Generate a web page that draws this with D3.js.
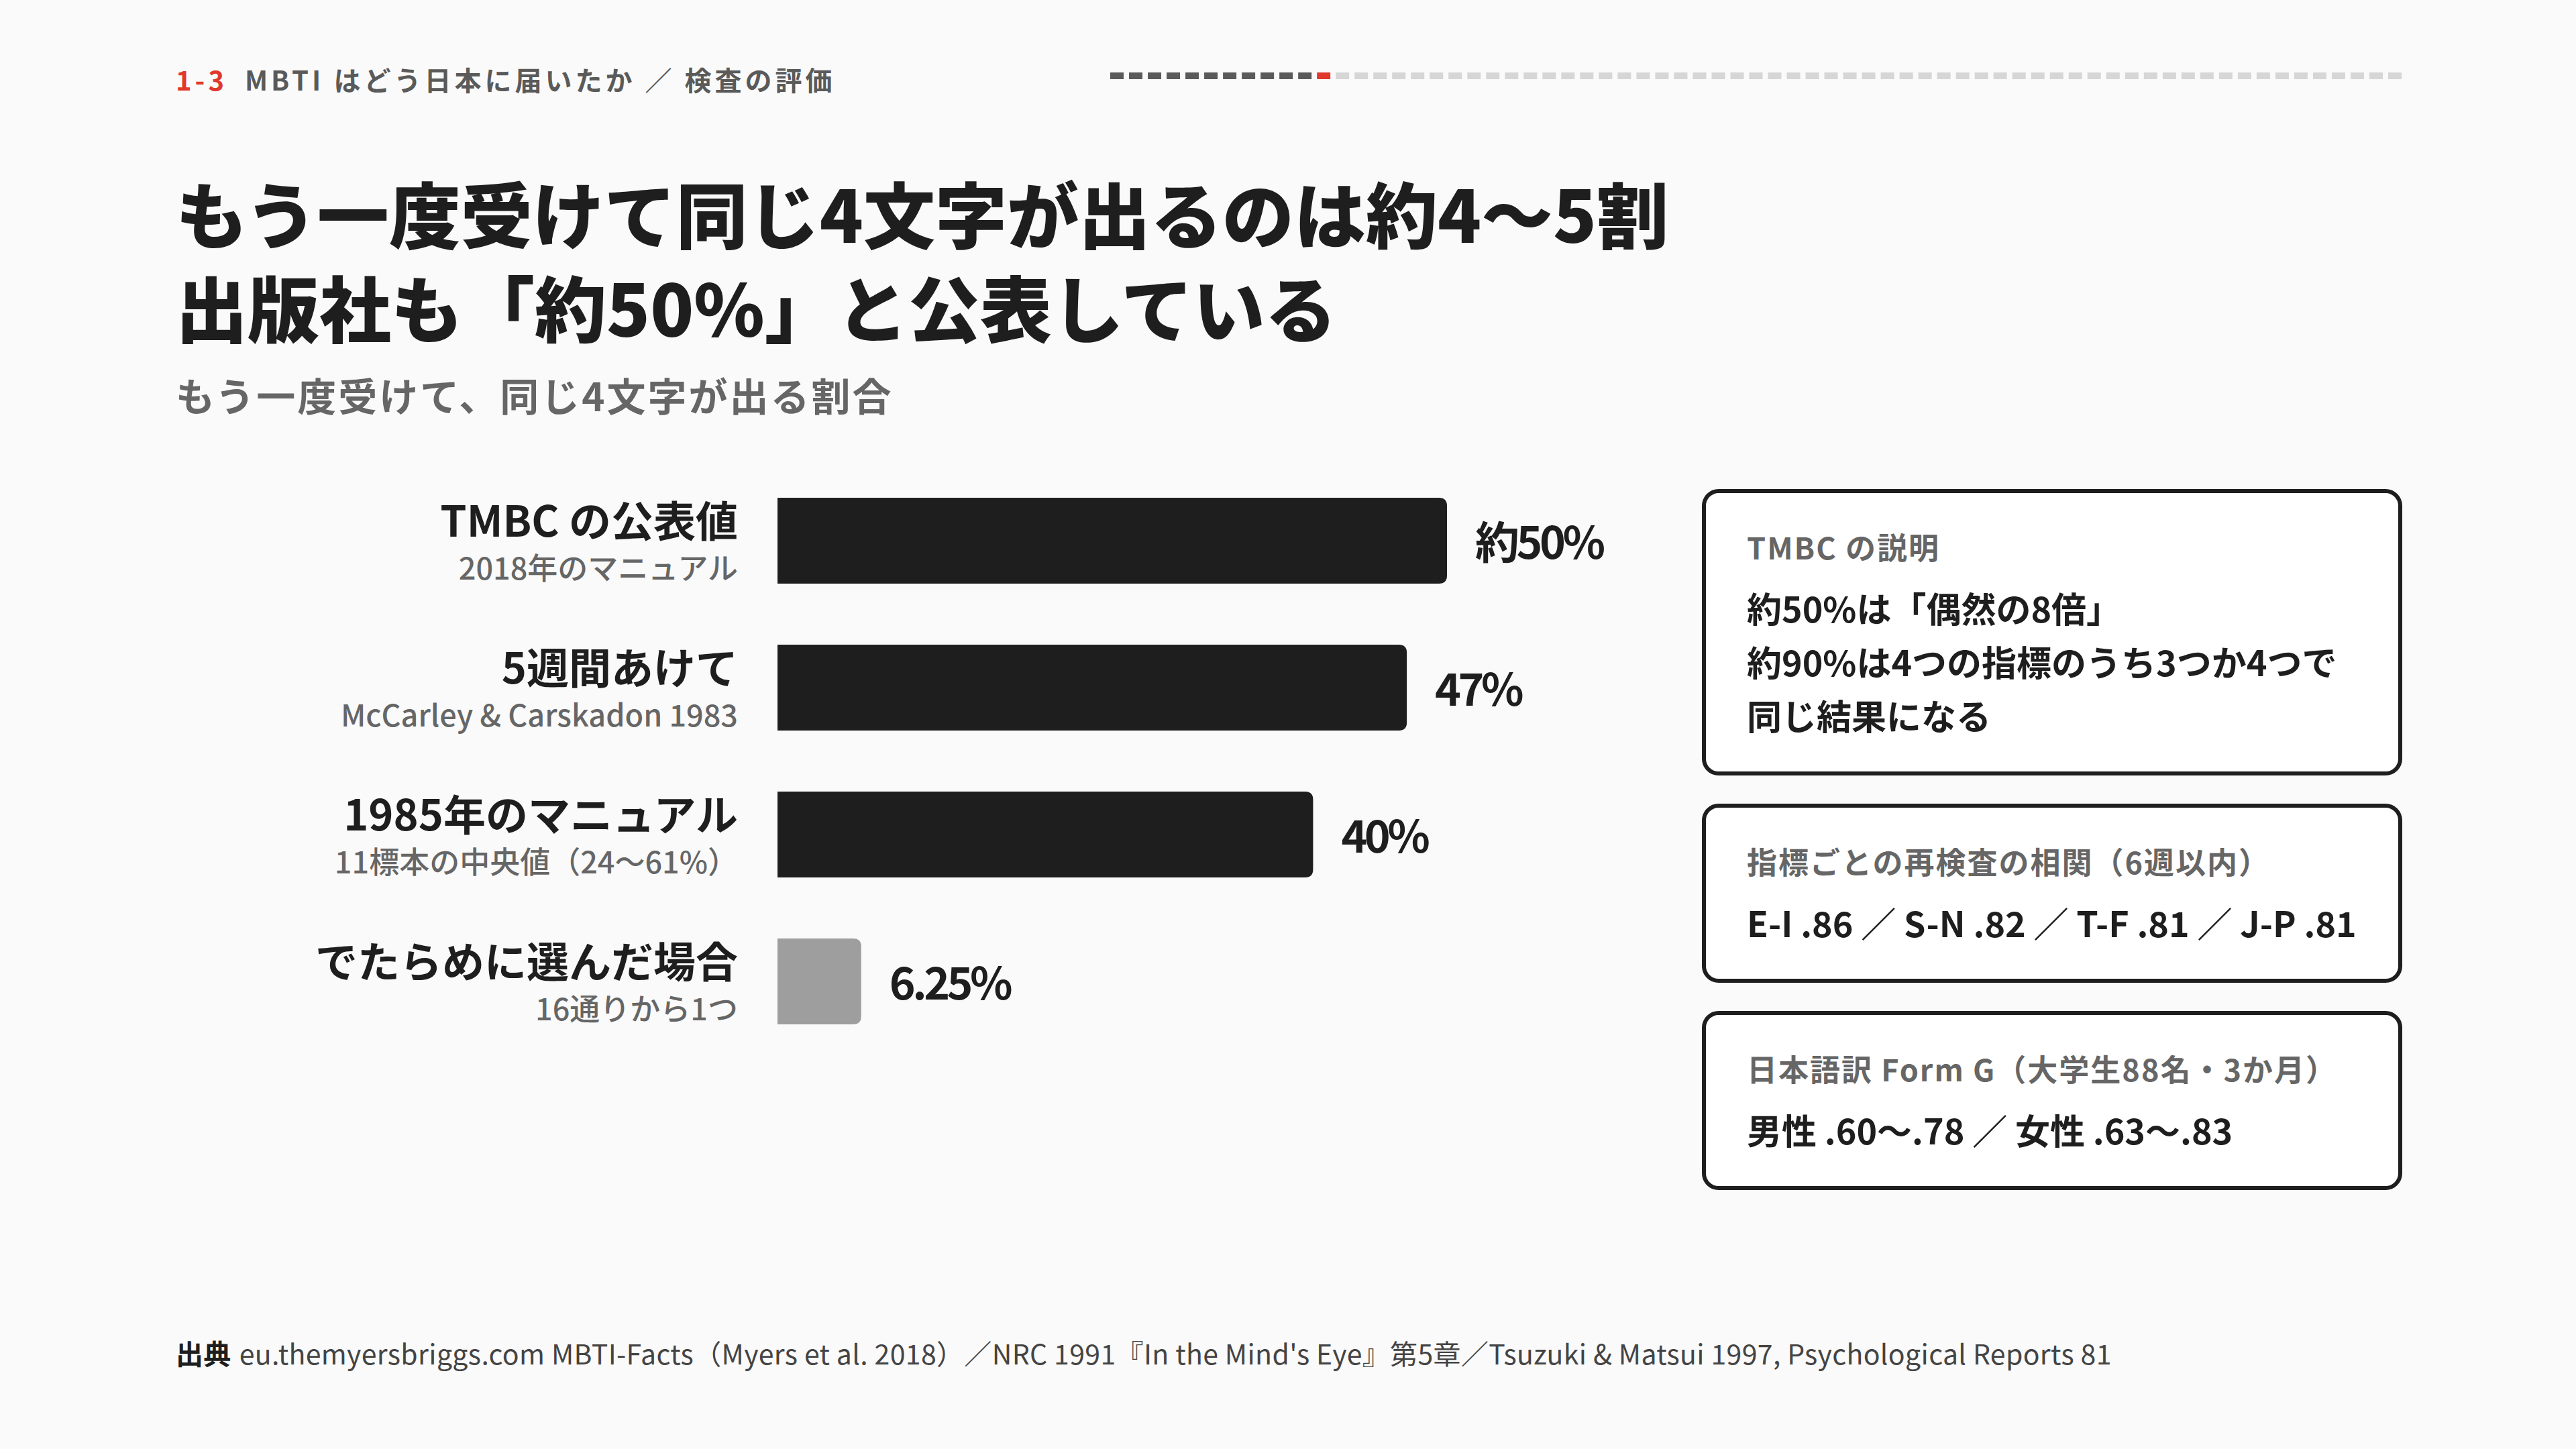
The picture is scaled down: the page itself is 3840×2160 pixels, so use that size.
<!DOCTYPE html>
<html>
<head>
<meta charset="utf-8">
<script src="https://cdn.jsdelivr.net/npm/d3@7"></script>
<style>
  body { margin: 0; background: #fafafa; }
  svg { display: block; font-family: "Noto Sans CJK JP", "Noto Sans", sans-serif; }
</style>
</head>
<body>
<script>
// chart data
var categories = ["TMBC の公表値", "5週間あけて", "1985年のマニュアル", "でたらめに選んだ場合"];
var notes = ["2018年のマニュアル", "McCarley & Carskadon 1983", "11標本の中央値（24〜61%）", "16通りから1つ"];
var values = [50, 47, 40, 6.25];
var valueLabels = ["約50%", "47%", "40%", "6.25%"];
var isChance = [false, false, false, true];

// side boxes
var boxTitles = ["TMBC の説明", "指標ごとの再検査の相関（6週以内）", "日本語訳 Form G（大学生88名・3か月）"];
var boxLines = [
  ["約50%は「偶然の8倍」", "約90%は4つの指標のうち3つか4つで", "同じ結果になる"],
  ["E-I .86 ／ S-N .82 ／ T-F .81 ／ J-P .81"],
  ["男性 .60〜.78 ／ 女性 .63〜.83"]
];

// progress dashes in header
var dashCount = 69;
var dashCurrent = 11;

var w = 3840;
var h = 2160;

var svg = d3.select("body")
  .append("svg")
  .attr("width", w)
  .attr("height", h);

svg.append("rect").attr("width", w).attr("height", h).attr("fill", "#fafafa");

// header
var header = svg.append("text")
  .attr("x", 262)
  .attr("y", 135)
  .attr("font-size", 40)
  .attr("font-weight", 700)
  .attr("letter-spacing", 5);
header.append("tspan").attr("fill", "#e0392b").text("1-3");
header.append("tspan").attr("fill", "#5a5a5a").attr("dx", 26).text("MBTI はどう日本に届いたか ／ 検査の評価");

var dashX = d3.scaleLinear().domain([0, dashCount - 1]).range([1655, 3560]);
svg.selectAll("rect.dash")
  .data(d3.range(dashCount))
  .enter()
  .append("rect")
  .attr("class", "dash")
  .attr("x", function(d) { return dashX(d); })
  .attr("y", 108)
  .attr("width", 20)
  .attr("height", 10)
  .attr("fill", function(d) {
    if (d < dashCurrent) return "#5a5a5a";
    if (d == dashCurrent) return "#e0392b";
    return "#d6d6d6";
  });

// title (two lines in one text)
var titleLines = ["もう一度受けて同じ4文字が出るのは約4〜5割", "出版社も「約50%」と公表している"];
svg.append("text")
  .attr("font-size", 107)
  .attr("font-weight", 900)
  .attr("fill", "#1e1e1e")
  .selectAll("tspan")
  .data(titleLines)
  .enter()
  .append("tspan")
  .attr("x", 262)
  .attr("y", function(d, i) { return 362 + i * 140; })
  .text(function(d) { return d; });

svg.append("text")
  .attr("x", 262)
  .attr("y", 613)
  .attr("font-size", 58)
  .attr("font-weight", 700)
  .attr("letter-spacing", 3)
  .attr("fill", "#666")
  .text("もう一度受けて、同じ4文字が出る割合");

// bars
var x = d3.scaleLinear().domain([0, 50]).range([1159, 2157]);
var y = d3.scaleBand().domain(categories).range([742, 1527]).paddingInner(91 / 219).paddingOuter(0);

function barPath(x0, x1, y0, bh, r) {
  r = Math.min(r, (x1 - x0) / 2);
  return "M" + x0 + "," + y0 +
    "H" + (x1 - r) +
    "Q" + x1 + "," + y0 + " " + x1 + "," + (y0 + r) +
    "V" + (y0 + bh - r) +
    "Q" + x1 + "," + (y0 + bh) + " " + (x1 - r) + "," + (y0 + bh) +
    "H" + x0 + "Z";
}

var rows = svg.selectAll("g.row")
  .data(categories)
  .enter()
  .append("g")
  .attr("class", "row");

rows.append("path")
  .attr("d", function(d, i) { return barPath(x(0), x(values[i]), y(d), y.bandwidth(), 12); })
  .attr("fill", function(d, i) { return isChance[i] ? "#9e9e9e" : "#1e1e1e"; });

rows.append("text")
  .attr("x", function(d, i) { return x(values[i]) + 42; })
  .attr("y", function(d) { return y(d) + y.bandwidth() / 2 + 27; })
  .attr("font-size", 66)
  .attr("font-weight", 700)
  .attr("letter-spacing", -4.5)
  .attr("fill", "#1e1e1e")
  .text(function(d, i) { return valueLabels[i]; });

rows.append("text")
  .attr("x", 1100)
  .attr("y", function(d) { return y(d) + 58; })
  .attr("text-anchor", "end")
  .attr("font-size", 63)
  .attr("font-weight", 700)
  .attr("fill", "#1e1e1e")
  .text(function(d) { return d; });

rows.append("text")
  .attr("x", 1100)
  .attr("y", function(d) { return y(d) + 122; })
  .attr("text-anchor", "end")
  .attr("font-size", 45)
  .attr("font-weight", 500)
  .attr("fill", "#666")
  .text(function(d, i) { return notes[i]; });

// side boxes
var boxX = 2540, boxW = 1038, lineStep = 80;
var boxTop = 732;
boxTitles.forEach(function(t, i) {
  var lines = boxLines[i];
  var bh = 261 + (lines.length - 1) * lineStep;
  var g = svg.append("g");
  g.append("rect")
    .attr("x", boxX)
    .attr("y", boxTop)
    .attr("width", boxW)
    .attr("height", bh)
    .attr("rx", 22)
    .attr("fill", "#ffffff")
    .attr("stroke", "#1e1e1e")
    .attr("stroke-width", 6);
  g.append("text")
    .attr("x", boxX + 64)
    .attr("y", boxTop + 102)
    .attr("font-size", 45)
    .attr("font-weight", 700)
    .attr("letter-spacing", 2)
    .attr("fill", "#666")
    .text(t);
  g.selectAll("text.line")
    .data(lines)
    .enter()
    .append("text")
    .attr("class", "line")
    .attr("x", boxX + 64)
    .attr("y", function(d, j) { return boxTop + 196 + j * lineStep; })
    .attr("font-size", 52)
    .attr("font-weight", 700)
    .attr("fill", "#1e1e1e")
    .text(function(d) { return d; });
  boxTop += bh + 48;
});

// source
var src = svg.append("text")
  .attr("x", 262)
  .attr("y", 2034)
  .attr("font-size", 41)
  .attr("letter-spacing", 0.35);
src.append("tspan").attr("font-weight", 700).attr("fill", "#1e1e1e").text("出典");
src.append("tspan").attr("dx", 12).attr("font-weight", 400).attr("fill", "#444")
  .text("eu.themyersbriggs.com MBTI-Facts（Myers et al. 2018）／NRC 1991『In the Mind's Eye』第5章／Tsuzuki & Matsui 1997, Psychological Reports 81");
</script>
</body>
</html>
